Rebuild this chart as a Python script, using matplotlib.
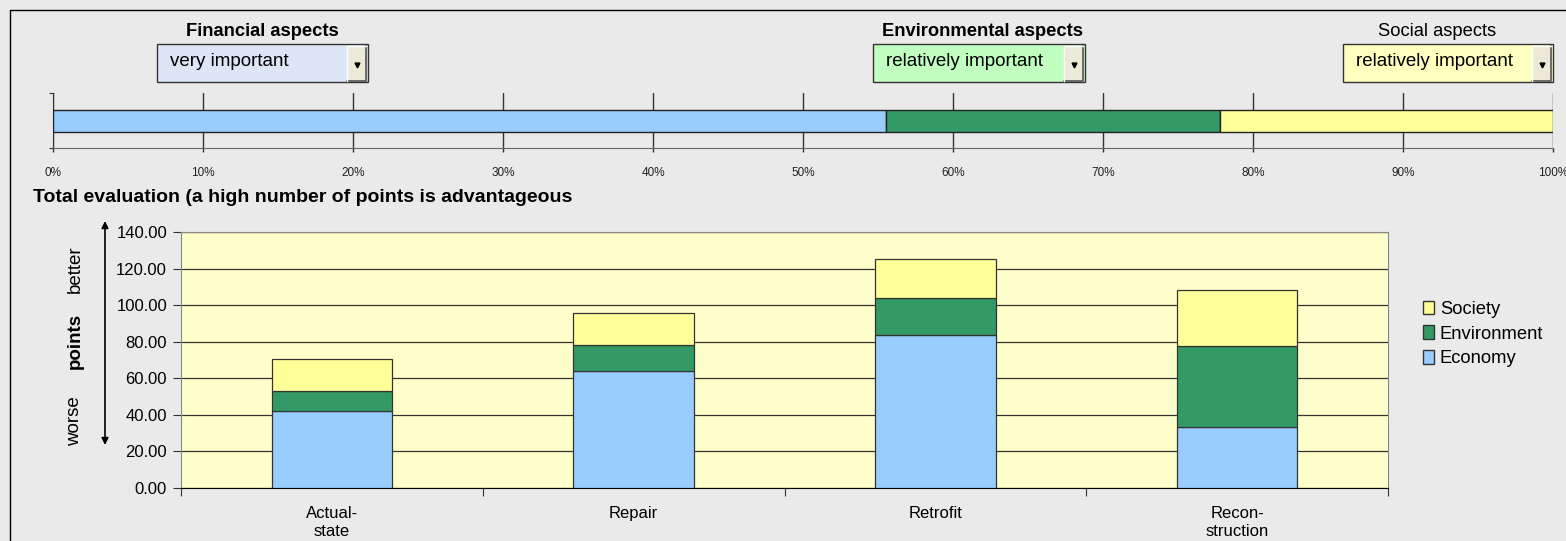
import numpy as np
import matplotlib
matplotlib.use("Agg")
import matplotlib.pyplot as plt
from matplotlib.patches import Rectangle, Patch

plt.rcParams['font.family'] = ['Liberation Sans', 'DejaVu Sans']

# weighting of the three aspects (dropdown choices)
aspects = ["Financial aspects", "Environmental aspects", "Social aspects"]
choices = ["very important", "relatively important", "relatively important"]
weights = [5, 2, 2]
pct_ticks = [0, 10, 20, 30, 40, 50, 60, 70, 80, 90, 100]

# total evaluation per variant
variants = ["Actual-\nstate", "Repair", "Retrofit", "Recon-\nstruction"]
economy = [42.0, 64.0, 83.7, 33.4]
environment = [11.2, 14.1, 20.0, 44.2]
society = [17.6, 17.6, 21.3, 30.6]
y_ticks = [0, 20, 40, 60, 80, 100, 120, 140]

c_eco = '#99CCFF'
c_env = '#339966'
c_soc = '#FFFF99'
bg = '#EAEAEA'

W, H = 1566, 541
fig = plt.figure(figsize=(W / 100, H / 100), dpi=100, facecolor=bg)


def px_axes(x0, y0, x1, y1, **kw):
    # axes from pixel box (top-left origin)
    return fig.add_axes([x0 / W, 1 - y1 / H, (x1 - x0) / W, (y1 - y0) / H], **kw)


# background layer for frame, dropdowns and loose text
bgax = px_axes(0, 0, W, H)
bgax.set_xlim(0, W)
bgax.set_ylim(H, 0)
bgax.axis('off')
bgax.plot([10, 10, W + 5], [545, 10, 10], color='black', lw=1)

boxes = [(157, 368, '#DCE6F7', 262, 'bold'),
         (873, 1085, '#C0FFC0', 982, 'bold'),
         (1343, 1553, '#FFFFC0', 1437, 'normal')]
for (x0, x1, fc, tx, fw), name, ch in zip(boxes, aspects, choices):
    bgax.text(tx, 31, name, ha='center', va='center', fontsize=13.2, fontweight=fw)
    bgax.add_patch(Rectangle((x0, 44), x1 - x0, 38, facecolor=fc, edgecolor='#333333', lw=1))
    bgax.add_patch(Rectangle((x1 - 21, 45.5), 19.5, 35, facecolor='#ECE9D8', edgecolor='none'))
    bgax.plot([x1 - 2, x1 - 2, x1 - 21], [45.5, 80.5, 80.5], color='#555555', lw=1.2)
    bgax.plot([x1 - 21, x1 - 21, x1 - 2], [80.5, 45.5, 45.5], color='white', lw=1)
    bgax.plot([x1 - 11.5], [65], marker='v', color='black', markersize=3.5)
    bgax.text(x0 + 13, 61, ch, ha='left', va='center', fontsize=13.5)

# top weighting bar
shares = np.array(weights) / np.sum(weights)
tax = px_axes(53, 93, 1553, 148)
tax.set_facecolor('none')
left = 0
for s, c in zip(shares, [c_eco, c_env, c_soc]):
    tax.barh(0.5, s, left=left, height=0.4, color=c, edgecolor='#222222', lw=1, zorder=3)
    left += s
tax.set_xlim(0, 1)
tax.set_ylim(0, 1)
tax.set_xticks(np.array(pct_ticks) / 100)
tax.set_xticklabels([f"{p}%" for p in pct_ticks], fontsize=8.5, color='#222222')
tax.tick_params(axis='x', length=3, pad=11, color='#333333', width=1)
tax.set_yticks([0, 1])
tax.set_yticklabels([])
tax.tick_params(axis='y', length=3, color='#333333')
tax.grid(axis='x', color='#333333', lw=1, zorder=0)
for sp in ['top', 'right']:
    tax.spines[sp].set_visible(False)
tax.spines['left'].set_color('#333333')
tax.spines['bottom'].set_color('#666666')

bgax.text(33, 197, "Total evaluation (a high number of points is advantageous",
          ha='left', va='center', fontsize=14, fontweight='bold')

# stacked bars
ax = px_axes(181, 232, 1388, 488)
ax.set_facecolor('#FFFFCC')
x = np.arange(len(variants))
eco = np.array(economy)
env = np.array(environment)
soc = np.array(society)
ax.bar(x, eco, width=0.4, color=c_eco, edgecolor='#333333', lw=0.9, zorder=3, label='Economy')
ax.bar(x, env, width=0.4, bottom=eco, color=c_env, edgecolor='#333333', lw=0.9, zorder=3, label='Environment')
ax.bar(x, soc, width=0.4, bottom=eco + env, color=c_soc, edgecolor='#333333', lw=0.9, zorder=3, label='Society')
ax.set_xlim(-0.5, len(variants) - 0.5)
ax.set_ylim(0, 140)
ax.set_yticks(y_ticks)
ax.set_yticklabels([f"{v:.2f}" for v in y_ticks], fontsize=12)
ax.tick_params(axis='y', length=6, pad=4, color='#333333')
ax.set_xticks(np.arange(len(variants) + 1) - 0.5)
ax.set_xticklabels([])
ax.tick_params(axis='x', which='major', length=6, color='#333333')
ax.set_xticks(x, minor=True)
ax.set_xticklabels(variants, minor=True, fontsize=12, linespacing=1.27)
ax.tick_params(axis='x', which='minor', length=0, pad=13)
for t in ax.get_xticklabels(minor=True):
    t.set_va('top')
ax.grid(axis='y', color='#333333', lw=0.9, zorder=0)
ax.spines['top'].set_color('#888888')
ax.spines['right'].set_color('#888888')
ax.spines['left'].set_color('#888888')
ax.spines['bottom'].set_color('#000000')

# better / worse arrow
bgax.annotate('', xy=(105, 221), xytext=(105, 445),
              arrowprops=dict(arrowstyle='<|-|>', color='black', lw=1.2,
                              mutation_scale=10, shrinkA=0, shrinkB=0))
bgax.text(75, 269, "better", rotation=90, ha='center', va='center', fontsize=13.5)
bgax.text(75, 341, "points", rotation=90, ha='center', va='center', fontsize=13.5, fontweight='bold')
bgax.text(75, 421, "worse", rotation=90, ha='center', va='center', fontsize=13.5)

# legend
handles = [Patch(facecolor=c_soc, edgecolor='#333333', label='Society'),
           Patch(facecolor=c_env, edgecolor='#333333', label='Environment'),
           Patch(facecolor=c_eco, edgecolor='#333333', label='Economy')]
fig.legend(handles=handles, loc='center left', bbox_to_anchor=(1406 / W, 1 - 334 / H),
           frameon=False, fontsize=13.2, handlelength=0.6, handleheight=0.75,
           handletextpad=0.35, labelspacing=0.42)

fig.savefig('out.png', dpi=100, facecolor=bg)
